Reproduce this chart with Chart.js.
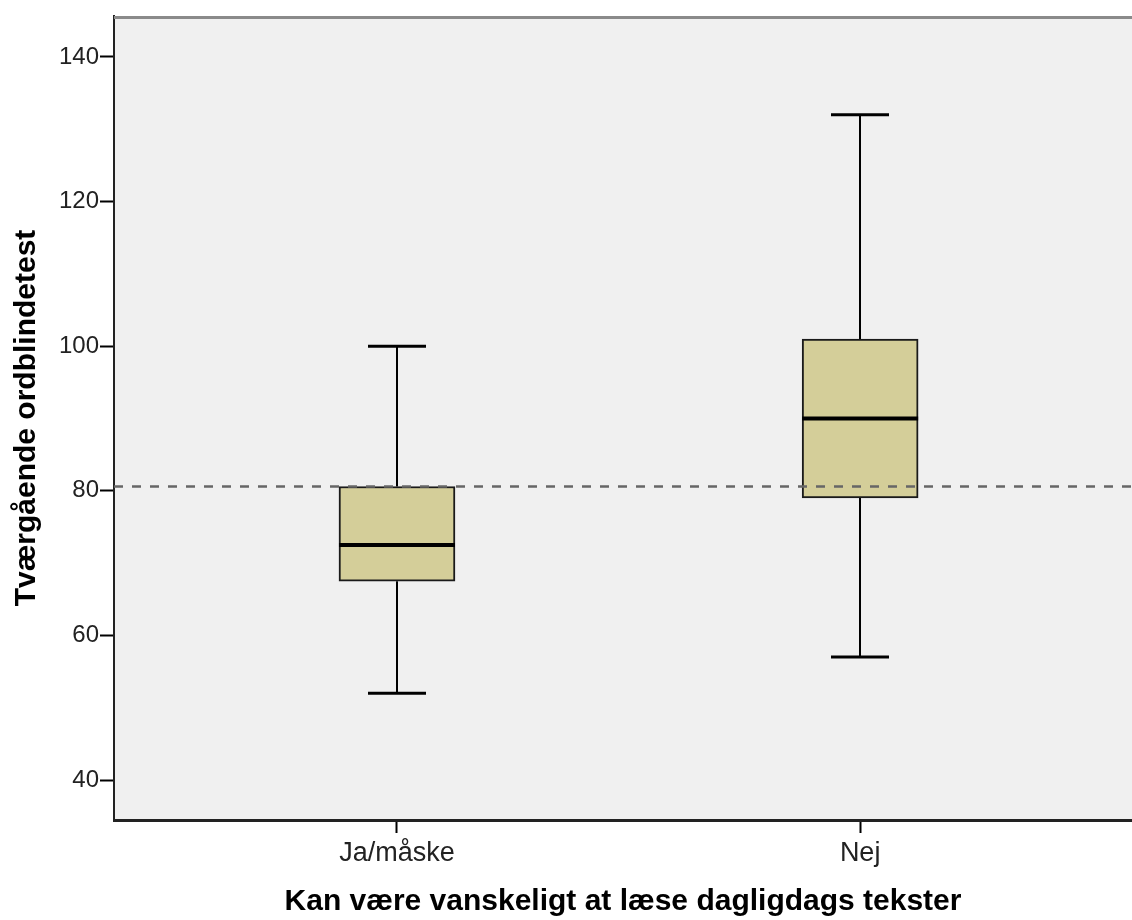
<!DOCTYPE html>
<html>
<head>
<meta charset="utf-8">
<script src="https://cdn.jsdelivr.net/npm/chart.js@4.4.1/dist/chart.umd.min.js"></script>
<style>
  html, body { margin: 0; padding: 0; background: #ffffff; }
  #wrap { width: 1132px; height: 920px; position: relative; }
</style>
</head>
<body>
<div id="wrap"><canvas id="c" width="1132" height="920"></canvas></div>
<script>
// ---- data ----
const categories = ["Ja/måske", "Nej"];
const whiskerLow = [52, 57];
const q1 = [67.5, 79];
const median = [72.5, 90];
const q3 = [80.6, 101];
const whiskerHigh = [100, 132];
const referenceLine = 80.6;
const yTicks = [40, 60, 80, 100, 120, 140];
const xTitle = "Kan være vanskeligt at læse dagligdags tekster";
const yTitle = "Tværgående ordblindetest";

const FONT = "'Liberation Sans', Arial, sans-serif";

const boxData = categories.map((c, i) => ({ x: i + 1, y: [q1[i], q3[i]] }));

const boxPlugin = {
  id: 'boxPlugin',
  beforeDraw(chart) {
    const { ctx, chartArea: a } = chart;
    ctx.save();
    ctx.fillStyle = '#f0f0f0';
    ctx.fillRect(a.left, a.top, a.right - a.left, a.bottom - a.top);
    ctx.restore();
  },
  beforeDatasetsDraw(chart) {
    const { ctx, scales: { x, y } } = chart;
    ctx.save();
    ctx.strokeStyle = '#000';
    categories.forEach((c, i) => {
      const cx = Math.round(x.getPixelForValue(i + 1));
      const capHalf = 29;
      ctx.lineWidth = 2;
      ctx.beginPath();
      ctx.moveTo(cx, y.getPixelForValue(whiskerHigh[i]));
      ctx.lineTo(cx, y.getPixelForValue(q3[i]));
      ctx.moveTo(cx, y.getPixelForValue(q1[i]));
      ctx.lineTo(cx, y.getPixelForValue(whiskerLow[i]));
      ctx.stroke();
      ctx.lineWidth = 3;
      ctx.beginPath();
      ctx.moveTo(cx - capHalf, y.getPixelForValue(whiskerHigh[i]));
      ctx.lineTo(cx + capHalf, y.getPixelForValue(whiskerHigh[i]));
      ctx.moveTo(cx - capHalf, y.getPixelForValue(whiskerLow[i]));
      ctx.lineTo(cx + capHalf, y.getPixelForValue(whiskerLow[i]));
      ctx.stroke();
    });
    ctx.restore();
  },
  afterDatasetsDraw(chart) {
    const { ctx, chartArea: a, scales: { x, y } } = chart;
    ctx.save();
    ctx.strokeStyle = '#000';
    ctx.lineWidth = 4;
    categories.forEach((c, i) => {
      const cx = x.getPixelForValue(i + 1);
      const my = y.getPixelForValue(median[i]);
      ctx.beginPath();
      ctx.moveTo(cx - 58, my);
      ctx.lineTo(cx + 58, my);
      ctx.stroke();
    });
    const ry = y.getPixelForValue(referenceLine);
    ctx.strokeStyle = '#666666';
    ctx.lineWidth = 2.5;
    ctx.setLineDash([9, 9]);
    ctx.beginPath();
    ctx.moveTo(a.left, ry);
    ctx.lineTo(a.right, ry);
    ctx.stroke();
    ctx.setLineDash([]);
    ctx.strokeStyle = '#8a8a8a';
    ctx.lineWidth = 3;
    ctx.beginPath();
    ctx.moveTo(a.left, a.top + 1.5);
    ctx.lineTo(a.right, a.top + 1.5);
    ctx.stroke();
    ctx.restore();
  }
};

new Chart(document.getElementById('c'), {
  type: 'bar',
  data: {
    datasets: [{
      data: boxData,
      backgroundColor: '#d4ce99',
      borderColor: '#1a1a1a',
      borderWidth: 2,
      borderSkipped: false,
      barThickness: 116
    }]
  },
  options: {
    responsive: false,
    animation: false,
    events: [],
    layout: { padding: { top: 16, right: 0, left: 0, bottom: 0 } },
    plugins: { legend: { display: false }, tooltip: { enabled: false } },
    scales: {
      x: {
        type: 'linear',
        offset: false,
        min: 0.389,
        max: 2.587,
        afterBuildTicks(scale) { scale.ticks = categories.map((c, i) => ({ value: i + 1 })); },
        afterFit(scale) { scale.height = 100; },
        ticks: {
          callback: (v) => categories[v - 1] ?? '',
          color: '#222',
          font: { family: FONT, size: 27 },
          padding: 4,
          maxRotation: 0,
          autoSkip: false
        },
        grid: { offset: false, drawOnChartArea: false, drawTicks: true, tickLength: 13, tickColor: '#000', tickWidth: 2 },
        border: { display: true, color: '#222', width: 3 },
        title: {
          display: true,
          text: xTitle,
          color: '#000',
          font: { family: FONT, size: 30, weight: 'bold' },
          padding: { top: 0, bottom: 0 }
        }
      },
      y: {
        min: 34.47,
        max: 145.67,
        afterBuildTicks(scale) { scale.ticks = yTicks.map(v => ({ value: v })); },
        afterFit(scale) { scale.width = 114; },
        ticks: {
          color: '#222',
          font: { family: FONT, size: 24 },
          padding: 1
        },
        grid: { drawOnChartArea: false, drawTicks: true, tickLength: 14, tickColor: '#000', tickWidth: 2 },
        border: { display: true, color: '#222', width: 2 },
        title: {
          display: true,
          text: yTitle,
          color: '#000',
          font: { family: FONT, size: 30, weight: 'bold' },
          padding: { top: 9, bottom: 0 }
        }
      }
    }
  },
  plugins: [boxPlugin]
});
</script>
</body>
</html>
